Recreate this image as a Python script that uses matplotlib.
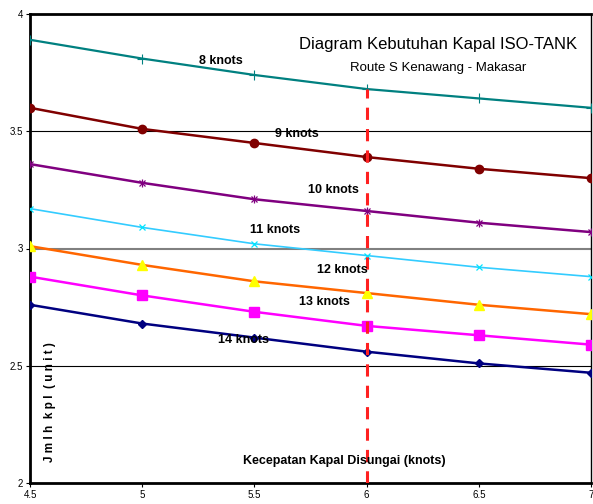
import matplotlib
matplotlib.use("Agg")
import matplotlib.pyplot as plt
import numpy as np

speeds = [4.5, 5, 5.5, 6, 6.5, 7]
knots_labels = ["8 knots", "9 knots", "10 knots", "11 knots", "12 knots", "13 knots", "14 knots"]
s8 = [3.89, 3.81, 3.74, 3.68, 3.64, 3.60]
s9 = [3.60, 3.51, 3.45, 3.39, 3.34, 3.30]
s10 = [3.36, 3.28, 3.21, 3.16, 3.11, 3.07]
s11 = [3.17, 3.09, 3.02, 2.97, 2.92, 2.88]
s12 = [3.01, 2.93, 2.86, 2.81, 2.76, 2.72]
s13 = [2.88, 2.80, 2.73, 2.67, 2.63, 2.59]
s14 = [2.76, 2.68, 2.62, 2.56, 2.51, 2.47]
yticks = [2, 2.5, 3, 3.5, 4]
xticks = [4.5, 5, 5.5, 6, 6.5, 7]

plt.rcParams['font.family'] = ['Liberation Sans', 'DejaVu Sans']

fig = plt.figure(figsize=(5.93, 5.04), dpi=100)
ax = fig.add_axes([30/593, 1-483/504, 561/593, (483-14)/504])

for y in [2.5, 3.5]:
    ax.axhline(y, color='black', lw=0.8, zorder=1)
ax.axhline(3.0, color='#808080', lw=1.5, zorder=1)

ax.plot(speeds, s8, color='#008080', lw=1.6, marker='+', ms=7, mew=0.8, zorder=3)
ax.plot(speeds, s9, color='#800000', lw=1.8, marker='o', ms=6, zorder=3)
ax.plot(speeds, s10, color='#800080', lw=1.8, zorder=3)
ax.plot(speeds, s10, ls='none', color='#800080', marker='x', ms=5, mew=0.9, zorder=3)
ax.plot(speeds, s10, ls='none', color='#800080', marker='|', ms=6, mew=0.9, zorder=3)
ax.plot(speeds, s11, color='#33CCFF', lw=1.2, marker='x', ms=4.5, mew=0.9, mec='#00E5FF', zorder=3)
ax.plot(speeds, s12, color='#FF6600', lw=1.8, zorder=3)
ax.plot(speeds, s12, ls='none', marker='^', ms=6.5, color='#FFFF00', zorder=4)
ax.plot(speeds, s13, color='#FF00FF', lw=1.8, marker='s', ms=6.5, zorder=3)
ax.plot(speeds, s14, color='#000080', lw=1.8, marker='D', ms=4.5, zorder=3)

ax.plot([6, 6], [2, s8[3]], color='#FF2020', lw=2.2, ls=(0, (4, 3)), zorder=5)

label_pos = [(5.35, 3.80), (5.69, 3.49), (5.85, 3.25), (5.59, 3.08), (5.89, 2.91), (5.81, 2.77), (5.45, 2.61)]
for (x, y), t in zip(label_pos, knots_labels):
    ax.text(x, y, t, fontsize=9, fontweight='bold', ha='center', va='center', zorder=6)

ax.text(6.32, 3.87, "Diagram Kebutuhan Kapal ISO-TANK", fontsize=12, ha='center', va='center')
ax.text(6.32, 3.77, "Route S Kenawang - Makasar", fontsize=9.5, ha='center', va='center')
ax.text(5.90, 2.094, "Kecepatan Kapal Disungai (knots)", fontsize=9, fontweight='bold', ha='center', va='center', zorder=6)
ax.text(4.59, 2.345, "J m l h  k p l  ( u n i t )", fontsize=8.5, fontweight='bold', rotation=90, ha='center', va='center')

ax.set_xlim(4.5, 7)
ax.set_ylim(2, 4)
ax.set_xticks(xticks)
ax.set_xticklabels([f"{v:g}" for v in xticks])
ax.set_yticks(yticks)
ax.set_yticklabels([f"{v:g}" for v in yticks])
ax.tick_params(labelsize=7, length=3, width=0.8, direction='out')
ax.tick_params(axis='x', pad=2)
ax.tick_params(axis='y', pad=2)
for side in ['left', 'top', 'bottom']:
    ax.spines[side].set_linewidth(2)
ax.spines['right'].set_linewidth(1)

fig.savefig("out.png", dpi=100)
